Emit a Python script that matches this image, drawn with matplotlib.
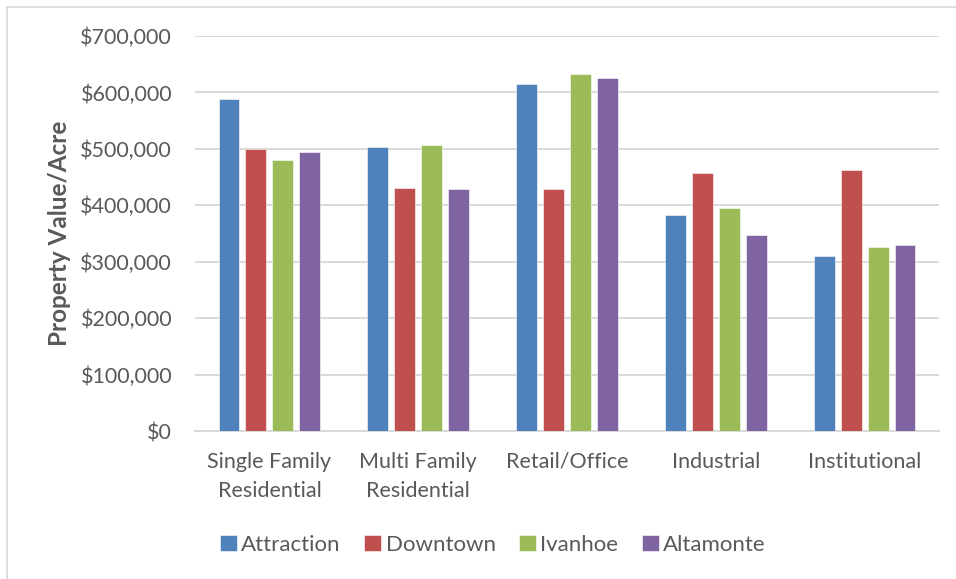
import matplotlib
matplotlib.use("Agg")
import matplotlib.pyplot as plt
import numpy as np
from matplotlib.ticker import FuncFormatter, MultipleLocator

plt.rcParams['font.family'] = ['Lato', 'DejaVu Sans']

categories = ["Single Family\nResidential", "Multi Family\nResidential",
              "Retail/Office", "Industrial", "Institutional"]
series_names = ["Attraction", "Downtown", "Ivanhoe", "Altamonte"]
attraction = [588000, 503000, 615000, 383000, 310000]
downtown = [500000, 430000, 428000, 457000, 462000]
ivanhoe = [481000, 507000, 633000, 396000, 326000]
altamonte = [494000, 429000, 626000, 347000, 330000]
colors = ["#4F81BD", "#C0504D", "#9BBB59", "#8064A2"]

W, H = 956, 579
fig = plt.figure(figsize=(W / 100, H / 100), dpi=100)
ax = fig.add_axes([195 / W, 1 - 431 / H, (939 - 195) / W, (431 - 36) / H])

x = np.arange(len(categories))
step = 0.181
width = 0.141
all_series = [attraction, downtown, ivanhoe, altamonte]
for i, (vals, c, name) in enumerate(zip(all_series, colors, series_names)):
    ax.bar(x + (i - 1.5) * step, vals, width=width, color=c, label=name,
           edgecolor="white", linewidth=0.4, zorder=3)

ax.set_xlim(-0.5, len(categories) - 0.5)
ax.set_ylim(0, 700000)
ax.yaxis.set_major_locator(MultipleLocator(100000))
ax.yaxis.set_major_formatter(FuncFormatter(lambda v, p: "${:,.0f}".format(v)))
ax.grid(axis="y", color="#d9d9d9", linewidth=1.4, zorder=0)
for s in ["top", "right", "left"]:
    ax.spines[s].set_visible(False)
ax.spines["bottom"].set_color("#d9d9d9")
ax.spines["bottom"].set_linewidth(1.4)
ax.tick_params(axis="both", length=0, labelsize=15.5, colors="#595959")
ax.tick_params(axis="y", pad=16.5)
ax.tick_params(axis="x", pad=15)
ax.set_xticks(x)
ax.set_xticklabels(categories, linespacing=1.55)
ax.set_ylabel("Property Value/Acre", fontsize=17.5, fontweight="bold",
              color="#595959", labelpad=7)

leg = fig.legend(loc="center", bbox_to_anchor=(493 / W, 1 - 545 / H), ncol=4,
                 frameon=False, fontsize=16, handlelength=0.75, handleheight=0.75,
                 handletextpad=0.2, columnspacing=1.07)
for t in leg.get_texts():
    t.set_color("#595959")

# outer frame of the chart
fig.add_artist(plt.Line2D([7 / W, 7 / W], [0, 1 - 7 / H], color="#d9d9d9",
                          linewidth=1.2, transform=fig.transFigure))
fig.add_artist(plt.Line2D([7 / W, 1], [1 - 7 / H, 1 - 7 / H], color="#d9d9d9",
                          linewidth=1.2, transform=fig.transFigure))

fig.savefig("out.png", dpi=100, facecolor="white")
